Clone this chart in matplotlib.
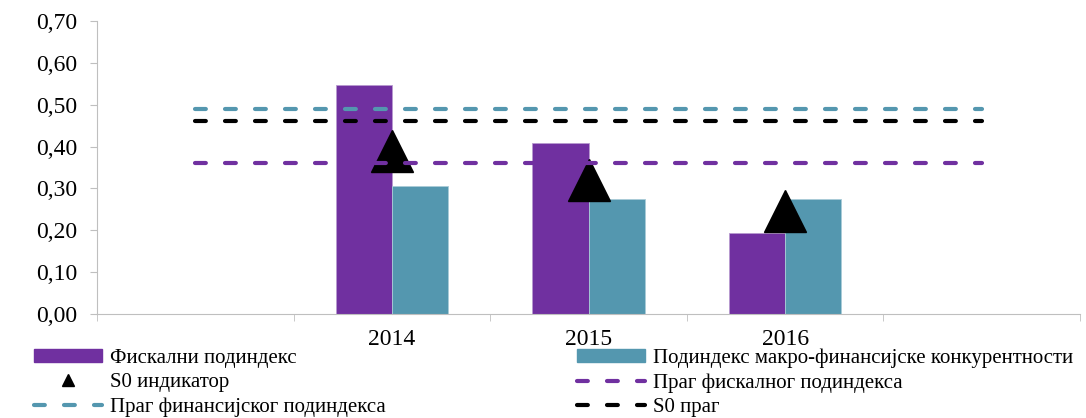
import numpy as np
import matplotlib
matplotlib.use("Agg")
from matplotlib import pyplot as plt
from matplotlib.lines import Line2D
from matplotlib.patches import Patch

# data
categories = ["", "2014", "2015", "2016", ""]
fiscal = [np.nan, 0.546, 0.408, 0.193, np.nan]
macro = [np.nan, 0.306, 0.274, 0.274, np.nan]
s0_indicator = [np.nan, 0.389, 0.321, 0.245, np.nan]
fin_threshold = [0.490, 0.490, 0.490, 0.490, 0.490]
s0_threshold = [0.461, 0.461, 0.461, 0.461, 0.461]
fiscal_threshold = [0.361, 0.361, 0.361, 0.361, 0.361]

labels = ["Фискални подиндекс", "Подиндекс макро-финансијске конкурентности",
          "S0 индикатор", "Праг фискалног подиндекса",
          "Праг финансијског подиндекса", "S0 праг"]

purple = "#7030A0"
teal = "#5497AF"

def main():
	plt.rcParams['font.family'] = ['Liberation Serif', 'DejaVu Serif']
	fs = 17
	lfs = 15.0

	fig = plt.figure(figsize=(10.86, 4.18), dpi=100)
	ax = fig.add_axes([0.0893, 0.2488, 0.9052, 0.701])

	x = np.arange(len(categories))
	w = 0.285
	ax.bar(x - w / 2, fiscal, w, color=purple, edgecolor="#B89AD0", linewidth=0.6, zorder=2)
	ax.bar(x + w / 2, macro, w, color=teal, edgecolor="#A9CCD8", linewidth=0.6, zorder=2)
	ax.plot(x, s0_indicator, ls="none", marker="^", ms=30, color="black", zorder=3)

	dash = (0, (2.6, 4.6))
	for vals, col in ((fin_threshold, teal), (s0_threshold, "black"), (fiscal_threshold, purple)):
		ax.plot(x, vals, color=col, lw=3, ls=dash, dash_capstyle="round", zorder=4)

	ax.set_xlim(-0.5, len(categories) - 0.5)
	ax.set_ylim(0, 0.70)
	ax.set_yticks(np.arange(0, 0.71, 0.1))
	ax.set_yticklabels([("%.2f" % v).replace(".", ",") for v in np.arange(0, 0.71, 0.1)], fontsize=fs)
	ax.set_xticks(x)
	ax.set_xticklabels(categories, fontsize=fs)
	ax.set_xticks(np.arange(-0.5, len(categories)), minor=True)
	ax.tick_params(axis="x", which="major", length=0, pad=11)
	ax.tick_params(axis="x", which="minor", length=5, color="#BFBFBF", direction="out")
	ax.tick_params(axis="y", length=5, color="#BFBFBF", direction="out", pad=9)
	for s in ("top", "right"):
		ax.spines[s].set_visible(False)
	for s in ("left", "bottom"):
		ax.spines[s].set_color("#BFBFBF")

	handles = [
		Patch(color=purple),
		Line2D([], [], ls="none", marker="^", ms=8, color="black"),
		Line2D([], [], color=teal, lw=3, ls=dash, dash_capstyle="round"),
		Patch(color=teal),
		Line2D([], [], color=purple, lw=3, ls=dash, dash_capstyle="round"),
		Line2D([], [], color="black", lw=3, ls=dash, dash_capstyle="round"),
	]
	order = [labels[0], labels[2], labels[4], labels[1], labels[3], labels[5]]
	fig.legend(handles, order, loc="upper left", bbox_to_anchor=(0.0313, 0.166), ncol=2,
	           frameon=False, fontsize=lfs, handlelength=3.25, handleheight=0.55,
	           handletextpad=0.38, labelspacing=0.24, columnspacing=9.2, borderaxespad=0,
	           borderpad=0)

	fig.savefig("out.png", dpi=100)

if __name__ == '__main__':
	main()
